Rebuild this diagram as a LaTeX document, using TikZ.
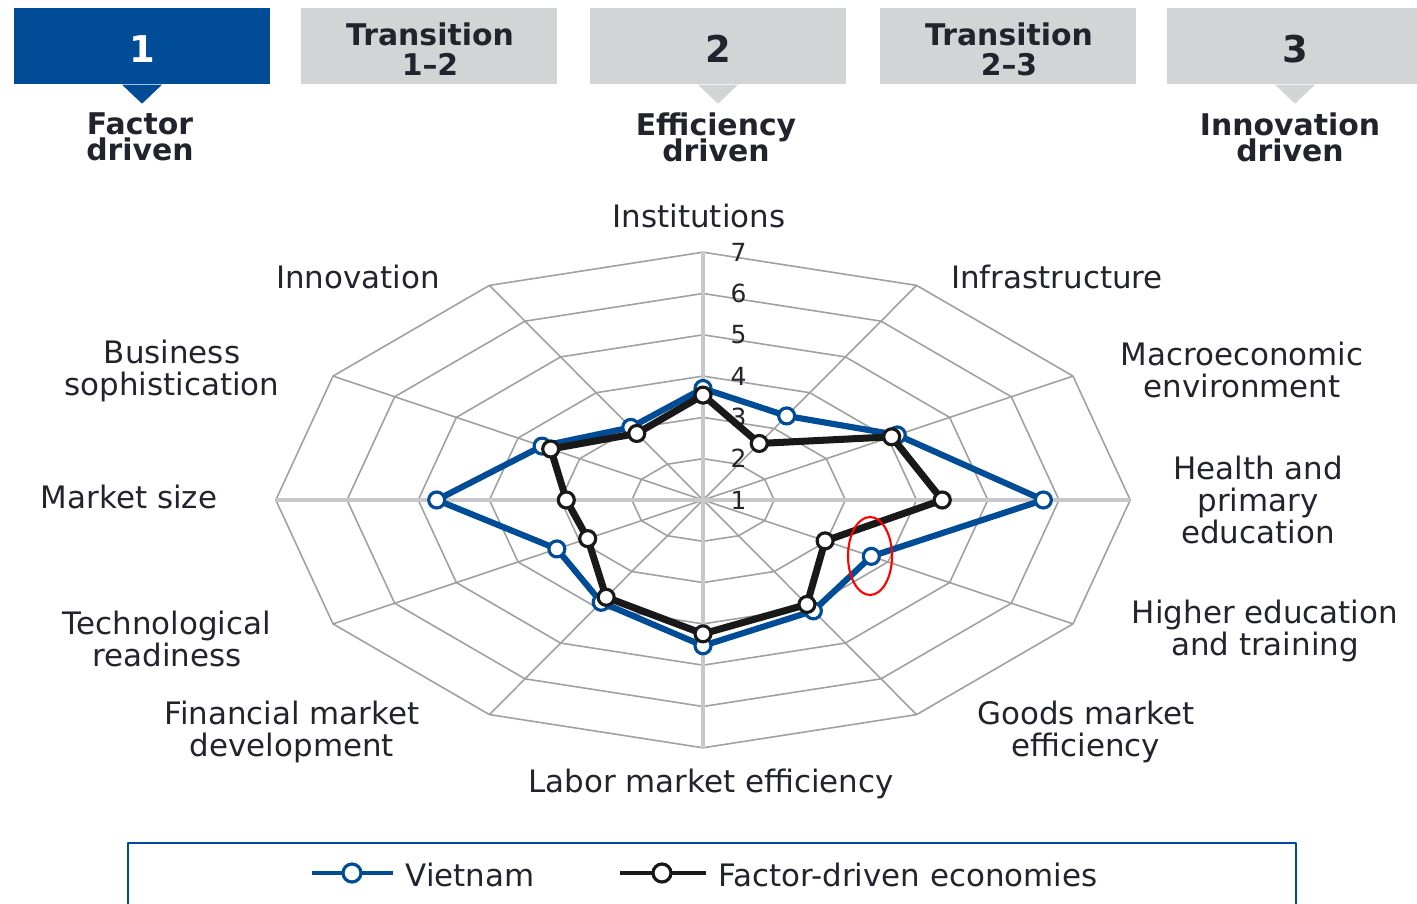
\documentclass[tikz,border=0pt]{standalone}
\usepackage{fontspec}
\setmainfont{DejaVu Sans}
\usetikzlibrary{shapes.geometric}
\definecolor{wefblue}{RGB}{0,76,151}
\definecolor{boxgray}{RGB}{211,212,214}
\definecolor{gridgray}{RGB}{160,160,160}
\definecolor{axisgray}{RGB}{200,200,202}
\definecolor{txtdark}{RGB}{35,35,45}

\begin{document}
\begin{tikzpicture}[x=0.1mm,y=-0.1mm,line join=round]
% Styles
\tikzstyle{stage box}=[minimum width=25.6mm,minimum height=7.6mm,inner sep=0pt,align=center,text=txtdark,font=\fontsize{8.5}{8.5}\selectfont\bfseries]
\tikzstyle{stage num}=[text=txtdark,font=\fontsize{10.5}{10.5}\selectfont\bfseries]
\tikzstyle{stage text}=[align=center,text=txtdark,font=\fontsize{8.5}{7.4}\selectfont\bfseries\setlength{\lineskiplimit}{-100pt}]
\tikzstyle{axis label}=[align=center,text=txtdark,font=\fontsize{8.8}{9.1}\selectfont\setlength{\lineskiplimit}{-100pt}]
\tikzstyle{tick label}=[text=txtdark,font=\fontsize{7.1}{7.1}\selectfont,inner sep=0pt]
\tikzstyle{grid line}=[draw=gridgray,line width=0.45pt]
\tikzstyle{main axis}=[draw=axisgray,line width=0.9pt]
\tikzstyle{vn line}=[draw=wefblue,line width=1.75pt]
\tikzstyle{fd line}=[draw=black!90,line width=2pt]
\tikzstyle{vn mark}=[circle,draw=wefblue,fill=white,line width=0.9pt,minimum size=1.6mm,inner sep=0pt]
\tikzstyle{fd mark}=[circle,draw=black!90,fill=white,line width=0.9pt,minimum size=1.6mm,inner sep=0pt]

\useasboundingbox (0,0) rectangle (1417,904);

% stages on top
\node[stage box,fill=wefblue] (s1) at (142,46) {};
\node[stage box,fill=boxgray] (t12) at (429,46) {};
\node[stage box,fill=boxgray] (s2) at (718,46) {};
\node[stage box,fill=boxgray] (t23) at (1008,46) {};
\node[stage box,fill=boxgray] (s3) at (1295,46) {};

\node[stage num,text=white] (n1) at (142,49) {1};
\node[stage box] (l12) at (430,49) {Transition\\1--2};
\node[stage num] (n2) at (718,49) {2};
\node[stage box] (l23) at (1009,49) {Transition\\2--3};
\node[stage num] (n3) at (1295,49) {3};

\fill[wefblue] (s1.south) ++(-20,0) -- ++(40,0) -- ++(-20,19) -- cycle;
\fill[boxgray] (s2.south) ++(-20,0) -- ++(40,0) -- ++(-20,19) -- cycle;
\fill[boxgray] (s3.south) ++(-20,0) -- ++(40,0) -- ++(-20,19) -- cycle;

\node[stage text] (f1) at (140,137) {Factor\\driven};
\node[stage text] (f2) at (716,137) {Efficiency\\driven};
\node[stage text] (f3) at (1290,137) {Innovation\\driven};

% radar chart
\begin{scope}[shift={(703,500)},x=7.12mm,y=4.13mm]
% rings and spokes
\foreach \r in {1,...,6} {
\draw[grid line] (90:\r) \foreach \a in {60,30,...,-240} {-- (\a:\r)} -- cycle;
}
\foreach \a in {30,60,120,150,210,240,300,330} {
\draw[grid line] (0,0) -- (\a:6);
}
\foreach \a in {0,90,180,270} {
\draw[main axis] (0,0) -- (\a:6);
}

% tick labels
\foreach \t in {1,...,7} {
\node[tick label] (tick\t) at (0.5,\t-1) {\t};
}

% data
\foreach \v [count=\i] in {3.7,3.35,4.15,5.78,3.73,4.1,4.53,3.86,3.37,4.74,3.61,3.03} {
\coordinate (vn\i) at ({90-30*(\i-1)}:{\v-1});
}
\foreach \v [count=\i] in {3.54,2.58,4.06,4.36,2.98,3.92,4.24,3.72,2.87,2.92,3.47,2.86} {
\coordinate (fd\i) at ({90-30*(\i-1)}:{\v-1});
}
\draw[vn line] (vn1) \foreach \i in {2,...,12} {-- (vn\i)} -- cycle;
\foreach \i in {1,...,12} {
\node[vn mark] (vnm\i) at (vn\i) {};
}
\draw[fd line] (fd1) \foreach \i in {2,...,12} {-- (fd\i)} -- cycle;
\foreach \i in {1,...,12} {
\node[fd mark] (fdm\i) at (fd\i) {};
}
\end{scope}

% axis labels
\node[axis label] (inst) at (699,216) {Institutions};
\node[axis label] (infra) at (1057,277) {Infrastructure};
\node[axis label] (macro) at (1242,370) {Macroeconomic\\environment};
\node[axis label] (health) at (1258,500) {Health and\\primary\\education};
\node[axis label] (higher) at (1265,631) {Higher education\\and training};
\node[axis label] (goods) at (1086,732) {Goods market\\efficiency};
\node[axis label] (labor) at (711,784) {Labor market efficiency};
\node[axis label] (fin) at (292,732) {Financial market\\development};
\node[axis label] (tech) at (167,639) {Technological\\readiness};
\node[axis label] (msize) at (129,497) {Market size};
\node[axis label] (bus) at (172,371) {Business\\sophistication};
\node[axis label] (innov) at (358,277) {Innovation};

% marked point
\node[draw=red,ellipse,line width=0.6pt,minimum width=4.4mm,minimum height=7.8mm,inner sep=0pt] (mark) at (870,556) {};

% legend
\draw[wefblue,line width=0.7pt] (128,843) rectangle (1296,940);
\coordinate (vna) at (312,873);
\coordinate (vnb) at (393,873);
\coordinate (fda) at (620,873);
\coordinate (fdb) at (706,873);
\draw[draw=wefblue,line width=1pt] (vna) -- (vnb);
\node[vn mark,minimum size=1.8mm] (vnkey) at (352,873) {};
\node[axis label,anchor=west,inner sep=0pt] (vntext) at (405,875) {Vietnam};
\draw[draw=black!90,line width=1pt] (fda) -- (fdb);
\node[fd mark,minimum size=1.8mm] (fdkey) at (662,873) {};
\node[axis label,anchor=west,inner sep=0pt] (fdtext) at (718,875) {Factor-driven economies};

\end{tikzpicture}
\end{document}
